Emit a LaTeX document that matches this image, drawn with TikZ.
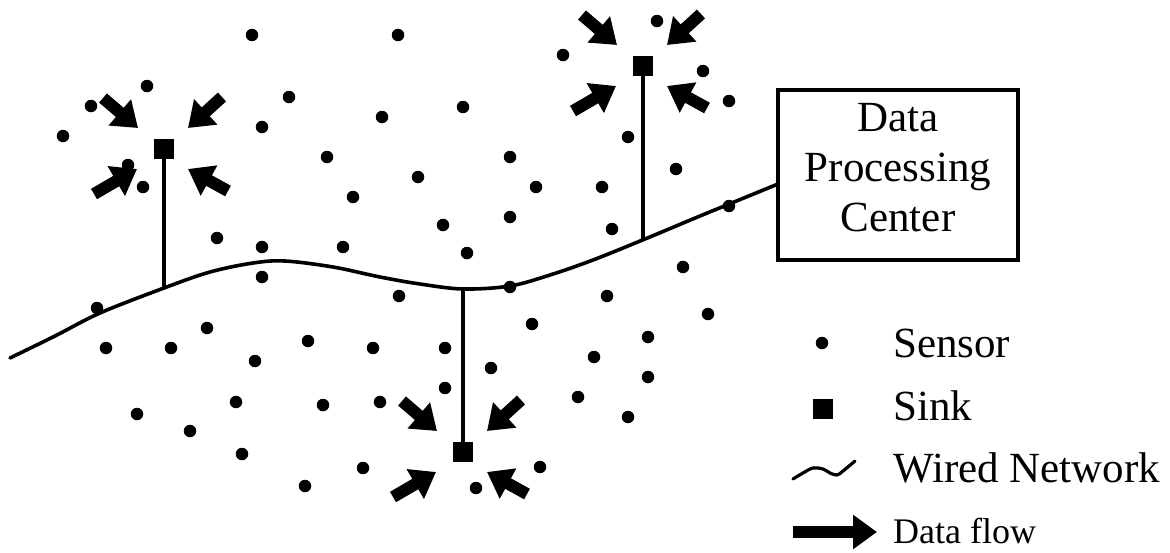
\documentclass[tikz,border=0pt]{standalone}
\usepackage{fontspec}
\setmainfont{Liberation Serif}
\usetikzlibrary{arrows.meta,calc}
\begin{document}
\begin{tikzpicture}[x=1pt,y=-1pt,
  sensor/.style={circle, fill=black, inner sep=0pt, minimum size=12.5pt},
  sinkbox/.style={rectangle, fill=black, inner sep=0pt, minimum size=20pt},
  wire/.style={line width=3.6pt, line join=round, line cap=round},
  flow/.style={line width=12pt, -{Triangle[length=24pt,width=33pt]}},
  bigtext/.style={font=\fontsize{43}{50}\selectfont},
  lbl/.style={bigtext, anchor=base west, inner sep=0pt},
]
\useasboundingbox (0,0) rectangle (1170,552);

% sensor field
\foreach \p in {
  (252,35),(398,35),(147,86),(91,106),(63,136),(289,97),(262,127),(382,117),
  (327,157),(353,197),(128,165),(143,187),(217,238),(262,247),(343,247),(262,277),
  (657,21),(563,55),(703,71),(729,101),(463,107),(628,137),(510,157),(418,177),
  (536,187),(602,187),(676,169),(443,225),(510,217),(612,229),(467,253),(729,206),
  (510,287),(683,267),(399,296),(607,296),
  (97,308),(207,328),(106,348),(171,348),(308,341),(373,348),(255,361),
  (236,402),(323,405),(380,402),(137,414),(190,431),(242,454),(363,468),(305,486),
  (708,314),(532,324),(648,337),(445,348),(594,357),(491,368),(648,377),(445,388),
  (578,397),(628,417),(540,467),(476,488)}
  \node[sensor] at \p {};

% sinks
\node[sinkbox] (sA) at (164,149) {};
\node[sinkbox] (sB) at (643,66) {};
\node[sinkbox] (sC) at (463,452) {};

% data processing center
\node[draw, line width=3.2pt, minimum width=240pt, minimum height=170pt, inner sep=0pt] (dpc) at (898,175) {};
\node[bigtext, align=center, inner sep=0pt] (dpctext) at ([yshift=7pt]dpc.center) {Data\\Processing\\Center};

% wired network
\coordinate (jA) at (164,288);
\coordinate (jB) at (645,239);
\coordinate (jC) at (463,289);
\draw[wire] plot[smooth, tension=0.55] coordinates {
  (10,358) (55,336) (100,313) (164,288) (210,272) (253,263) (285,261) (333,267)
  (380,277) (420,284) (463,289) (510,286) (550,275) (593,260) (645,239) (700,216) (778,184)};
\draw[wire] (sA) -- (sA |- jA);
\draw[wire] (sB) -- (sB |- jB);
\draw[wire] (sC |- jC) -- (sC);

% data flowing into each sink
\foreach \s in {sA,sB,sC} {
  \draw[flow] ($(\s)+(-61,-51)$) -- ($(\s)+(-26,-21)$);
  \draw[flow] ($(\s)+(58,-52)$) -- ($(\s)+(24,-21)$);
  \draw[flow] ($(\s)+(-70,45)$) -- ($(\s)+(-27,20)$);
  \draw[flow] ($(\s)+(64,42)$) -- ($(\s)+(24,20)$);
}

% legend
\node[sensor] (lgSensor) at (822,343) {};
\node[lbl] at (893,357) {Sensor};
\node[sinkbox] (lgSink) at (823,409) {};
\node[lbl] at (893,420) {Sink};
\draw[wire, line width=3.2pt] plot[smooth, tension=0.6] coordinates {
  (793,479) (803,473) (813,468) (823,469) (830,473) (837,475) (843,471) (855,461)};
\node[lbl] at (893,482) {Wired Network};
\coordinate (lgFlowA) at (793,532);
\coordinate (lgFlowB) at (877,532);
\draw[flow] (lgFlowA) -- (lgFlowB);
\node[lbl, font=\fontsize{36}{42}\selectfont] at (893,543) {Data flow};
\end{tikzpicture}
\end{document}
